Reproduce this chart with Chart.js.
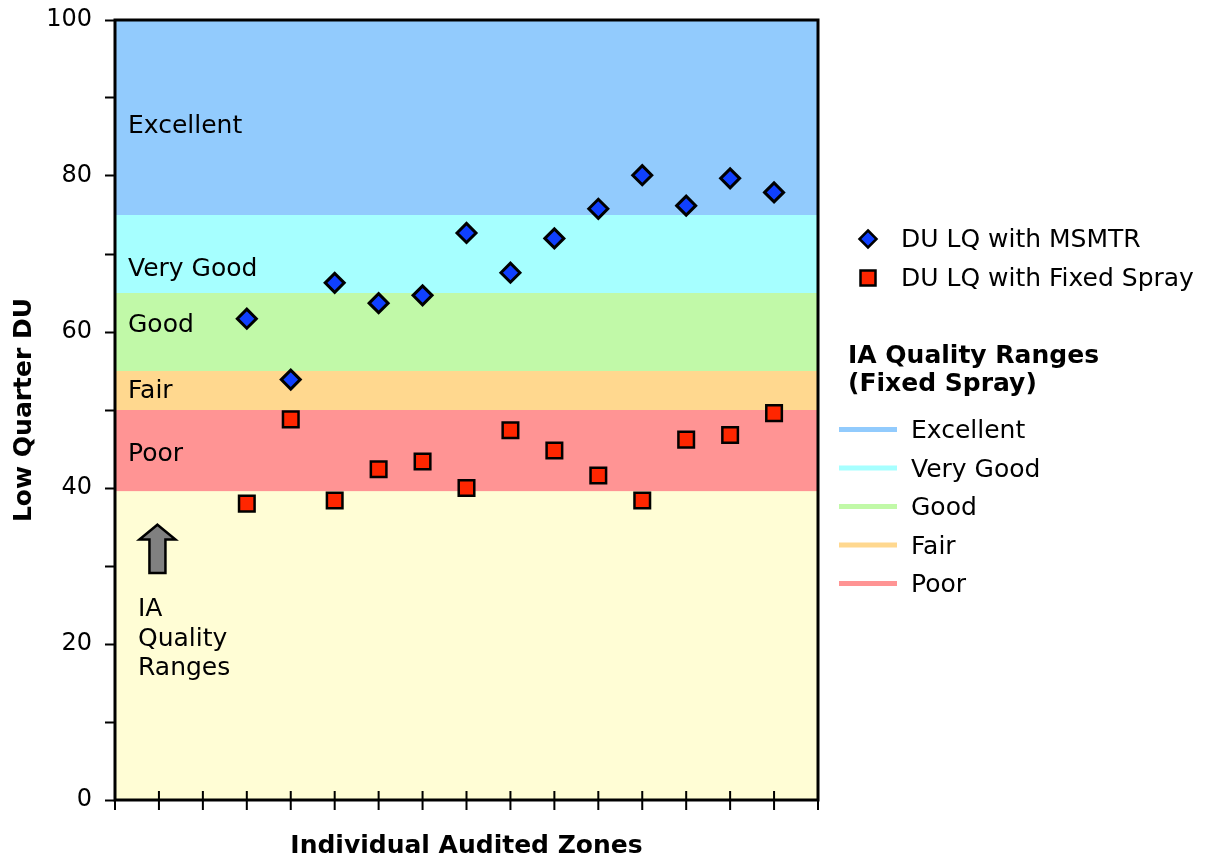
<!DOCTYPE html>
<html>
<head>
<meta charset="utf-8">
<script src="https://cdn.jsdelivr.net/npm/chart.js@4"></script>
<style>
  html, body { margin: 0; padding: 0; background: #fff; }
</style>
</head>
<body>
<canvas id="duChart" width="1206" height="859"></canvas>
<script>
// zone positions on the x axis (0..16), points sit on zones 3..15
const zones = [3, 4, 5, 6, 7, 8, 9, 10, 11, 12, 13, 14, 15];
const duMsmtr = [61.7, 53.9, 66.3, 63.7, 64.7, 72.7, 67.6, 72.0, 75.8, 80.1, 76.2, 79.7, 77.9];
const duFixed = [38.0, 48.8, 38.4, 42.4, 43.4, 40.0, 47.4, 44.8, 41.6, 38.4, 46.2, 46.8, 49.6];
const seriesNames = ['DU LQ with MSMTR', 'DU LQ with Fixed Spray'];

// IA quality ranges (fixed spray)
const rangeNames = ['Excellent', 'Very Good', 'Good', 'Fair', 'Poor'];
const rangeLow = [75, 65, 55, 50, 39.6];
const rangeHigh = [100, 75, 65, 55, 50];
const rangeColors = ['#92cbfd', '#a6ffff', '#c1f9a8', '#ffd88f', '#ff9494'];
const belowColor = '#fffdd5';

const yMin = 0, yMax = 100, yStep = 10, yLabelStep = 20;
const xMin = 0, xMax = 16;

const FONT = '"DejaVu Sans", Verdana, sans-serif';
Chart.defaults.font.family = FONT;
Chart.defaults.color = '#000';

// where the range names sit inside the plot (in y values)
const rangeLabelAt = [86.4, 68.0, 60.8, 52.4, 44.3];

const drawDiamond = (ctx, x, y, r) => {
    ctx.beginPath();
    ctx.moveTo(x, y - r);
    ctx.lineTo(x + r, y);
    ctx.lineTo(x, y + r);
    ctx.lineTo(x - r, y);
    ctx.closePath();
    ctx.fill();
    ctx.stroke();
};

const drawSquare = (ctx, x, y, h) => {
    ctx.beginPath();
    ctx.rect(x - h, y - h, 2 * h, 2 * h);
    ctx.fill();
    ctx.stroke();
};

const rangesPlugin = {
    id: 'ranges',
    beforeDraw(chart) {
        const { ctx, chartArea: a, scales: { x, y } } = chart;
        ctx.save();
        ctx.fillStyle = belowColor;
        ctx.fillRect(a.left, a.top, a.right - a.left, a.bottom - a.top);
        rangeNames.forEach((name, i) => {
            const top = y.getPixelForValue(rangeHigh[i]);
            const bot = y.getPixelForValue(rangeLow[i]);
            ctx.fillStyle = rangeColors[i];
            ctx.fillRect(a.left, top, a.right - a.left, bot - top);
        });

        ctx.fillStyle = '#000';
        ctx.font = '25px ' + FONT;
        ctx.textAlign = 'left';
        ctx.textBaseline = 'middle';
        rangeNames.forEach((name, i) => {
            ctx.fillText(name, a.left + 13, y.getPixelForValue(rangeLabelAt[i]));
        });

        // arrow + "IA Quality Ranges" note
        const ax = x.getPixelForValue(1) - 1.5;
        const tip = y.getPixelForValue(35.3);
        const base = y.getPixelForValue(33.4);
        const foot = y.getPixelForValue(29.1);
        ctx.beginPath();
        ctx.moveTo(ax, tip);
        ctx.lineTo(ax + 18, base);
        ctx.lineTo(ax + 8, base);
        ctx.lineTo(ax + 8, foot);
        ctx.lineTo(ax - 8, foot);
        ctx.lineTo(ax - 8, base);
        ctx.lineTo(ax - 18, base);
        ctx.closePath();
        ctx.fillStyle = '#808080';
        ctx.fill();
        ctx.lineWidth = 2.5;
        ctx.strokeStyle = '#000';
        ctx.stroke();

        ctx.fillStyle = '#000';
        ['IA', 'Quality', 'Ranges'].forEach((t, i) => {
            ctx.fillText(t, a.left + 23, y.getPixelForValue(24.4 - i * 3.8));
        });
        ctx.restore();
    },
    afterDraw(chart) {
        const { ctx, chartArea: a, scales: { x } } = chart;
        ctx.save();
        ctx.strokeStyle = '#000';

        // x tick marks cross the axis
        ctx.lineWidth = 2;
        ctx.beginPath();
        for (let v = xMin; v <= xMax; v++) {
            const px = x.getPixelForValue(v);
            ctx.moveTo(px, a.bottom - 9);
            ctx.lineTo(px, a.bottom + 10);
        }
        ctx.stroke();

        // plot frame
        ctx.lineWidth = 3;
        ctx.strokeRect(a.left, a.top, a.right - a.left, a.bottom - a.top);

        // legend: series
        const ds = chart.data.datasets;
        ctx.font = '25px ' + FONT;
        ctx.textAlign = 'left';
        ctx.textBaseline = 'middle';
        ctx.lineWidth = 2.5;
        ctx.fillStyle = ds[0].backgroundColor;
        drawDiamond(ctx, 868, 239, 8.5);
        ctx.fillStyle = ds[1].backgroundColor;
        drawSquare(ctx, 868, 278, 7.5);
        ctx.fillStyle = '#000';
        ctx.fillText(seriesNames[0], 901, 240);
        ctx.fillText(seriesNames[1], 901, 279);

        // legend: ranges
        ctx.font = 'bold 25px ' + FONT;
        ctx.fillText('IA Quality Ranges', 848, 356);
        ctx.fillText('(Fixed Spray)', 848, 384);
        ctx.font = '25px ' + FONT;
        ctx.lineWidth = 5;
        rangeNames.forEach((name, i) => {
            const ly = 429.5 + i * 38.5;
            ctx.strokeStyle = rangeColors[i];
            ctx.beginPath();
            ctx.moveTo(839, ly);
            ctx.lineTo(897, ly);
            ctx.stroke();
            ctx.fillText(name, 911, ly + 2);
        });
        ctx.restore();
    }
};

const ctx = document.getElementById('duChart').getContext('2d');
const chart = new Chart(ctx, {
    type: 'scatter',
    data: {
        datasets: [
            {
                label: seriesNames[0],
                data: zones.map((z, i) => ({ x: z, y: duMsmtr[i] })),
                pointStyle: 'rectRot',
                pointRadius: 9.5,
                pointHoverRadius: 9.5,
                backgroundColor: '#1040ff',
                borderColor: '#000',
                borderWidth: 3
            },
            {
                label: seriesNames[1],
                data: zones.map((z, i) => ({ x: z, y: duFixed[i] })),
                pointStyle: 'rect',
                pointRadius: 11,
                pointHoverRadius: 11,
                backgroundColor: '#ff2600',
                borderColor: '#000',
                borderWidth: 2.5
            }
        ]
    },
    options: {
        responsive: false,
        animation: false,
        layout: { padding: { top: 20, right: 388, bottom: 0, left: 0 } },
        plugins: {
            legend: { display: false },
            tooltip: { enabled: false }
        },
        scales: {
            x: {
                type: 'linear',
                min: xMin,
                max: xMax,
                ticks: { display: false, stepSize: 1 },
                grid: { display: false },
                border: { display: false },
                title: {
                    display: true,
                    text: 'Individual Audited Zones',
                    font: { size: 25, weight: 'bold', lineHeight: 1 },
                    padding: { top: 0, bottom: 0 }
                },
                afterFit: (scale) => {
                    scale.height = 59;
                    scale.paddingLeft = 0;
                    scale.paddingRight = 0;
                }
            },
            y: {
                min: yMin,
                max: yMax,
                ticks: {
                    stepSize: yStep,
                    autoSkip: false,
                    padding: 13,
                    font: { size: 24 },
                    callback: (v) => (v % yLabelStep === 0 ? v : '')
                },
                grid: {
                    drawOnChartArea: false,
                    drawTicks: true,
                    tickLength: 10,
                    tickWidth: 2,
                    tickColor: '#000'
                },
                border: { display: false },
                title: {
                    display: true,
                    text: 'Low Quarter DU',
                    font: { size: 25, weight: 'bold', lineHeight: 1.2 },
                    padding: { top: 9, bottom: 0 }
                },
                afterFit: (scale) => {
                    scale.width = 115;
                    scale.paddingTop = 0;
                    scale.paddingBottom = 0;
                }
            }
        }
    },
    plugins: [rangesPlugin]
});
</script>
</body>
</html>
